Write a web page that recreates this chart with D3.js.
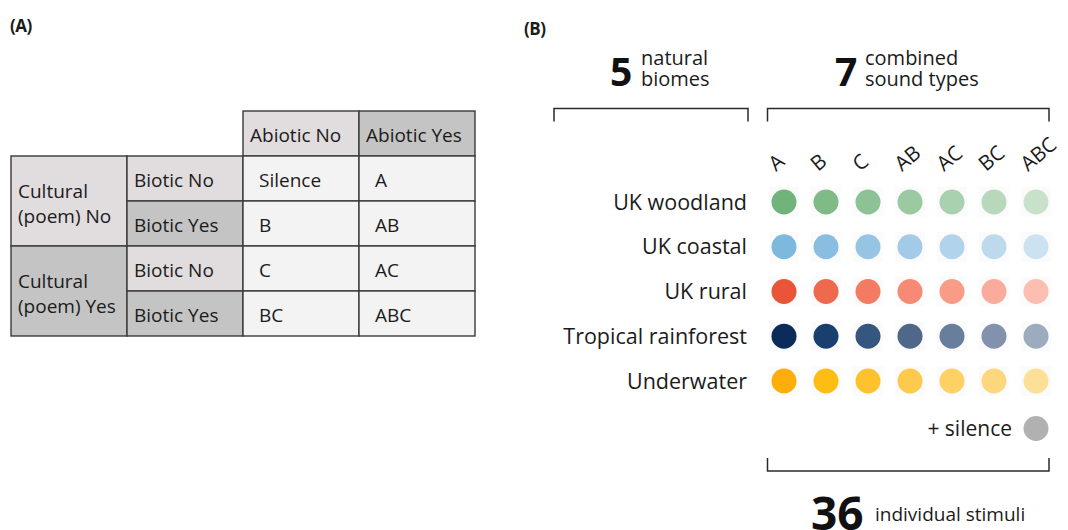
<!DOCTYPE html>
<html><head><meta charset="utf-8">
<script src="https://cdn.jsdelivr.net/npm/d3@7"></script>
<style>
body{margin:0;background:#fff;}
svg{display:block;font-family:"Open Sans","Noto Sans",sans-serif;}
</style></head>
<body>
<svg id="c" width="1068" height="530"></svg>
<script>
// ---------- data ----------
const abioticLevels = ["Abiotic No", "Abiotic Yes"];
const culturalLevels = [["Cultural", "(poem) No"], ["Cultural", "(poem) Yes"]];
const bioticLevels = ["Biotic No", "Biotic Yes"];
const tableCells = [["Silence", "A"], ["B", "AB"], ["C", "AC"], ["BC", "ABC"]];

const biomes = ["UK woodland", "UK coastal", "UK rural", "Tropical rainforest", "Underwater"];
const soundTypes = ["A", "B", "C", "AB", "AC", "BC", "ABC"];
const woodlandColors = ["#70b47b", "#7fba87", "#8dc296", "#9bc9a2", "#a9d0af", "#b8d8bc", "#c8e1ca"];
const coastalColors = ["#7db9dd", "#89bee0", "#96c5e3", "#a3cbe7", "#b1d3eb", "#bcd9ee", "#cce2f1"];
const ruralColors = ["#e95539", "#ee694d", "#f37b63", "#f68a74", "#f89c88", "#f9ac9c", "#fbbeb1"];
const rainforestColors = ["#0b2b5b", "#183f6d", "#35567e", "#4f6889", "#677f9d", "#8292ac", "#9cabbe"];
const underwaterColors = ["#fdae0a", "#fdbd13", "#fdc22d", "#fdca4b", "#fdd163", "#fdd77d", "#fde097"];
const biomeColors = [woodlandColors, coastalColors, ruralColors, rainforestColors, underwaterColors];
const silenceColor = "#b1b1b1";

const headlineNums = ["5", "7", "36"];
const headlineTexts = [["natural", "biomes"], ["combined", "sound types"], ["individual stimuli"]];

// ---------- drawing ----------
const svg = d3.select("#c");
const ink = "#1b1b1b";
const light = "#e1dcde", dark = "#c4c4c4", body = "#f3f3f3", border = "#3a3a3a";

// Panel labels
svg.append("text").attr("x", 10).attr("y", 32).attr("font-size", 17).attr("font-weight", 700)
  .attr("letter-spacing", -0.5).attr("fill", ink).text("(A)");
svg.append("text").attr("x", 524).attr("y", 35).attr("font-size", 17).attr("font-weight", 700)
  .attr("letter-spacing", -0.5).attr("fill", ink).text("(B)");

// ----- Panel A table -----
const colX = d3.scaleBand().domain(["cult", "bio", ...abioticLevels]).range([11, 475]);
const rowY = d3.scaleBand().domain(["head", ...tableCells.map((d, i) => i)]).range([111, 336]);
const cw = colX.bandwidth(), rh = rowY.bandwidth();
const gA = svg.append("g");
const fsT = 19;

function cell(x, y, w, h, fill) {
  gA.append("rect").attr("x", x).attr("y", y).attr("width", w).attr("height", h)
    .attr("fill", fill).attr("stroke", border).attr("stroke-width", 1.4);
}
function label(x, y, t) {
  gA.append("text").attr("x", x).attr("y", y).attr("font-size", fsT).attr("fill", ink).text(t);
}
// header
abioticLevels.forEach((a, i) => {
  cell(colX(a), rowY("head"), cw, rh, i === 0 ? light : dark);
  label(colX(a) + 7, rowY("head") + rh / 2 + 8.5, a);
});
// cultural
culturalLevels.forEach((c, i) => {
  const y0 = rowY(i * 2);
  cell(colX("cult"), y0, cw, rh * 2, i === 0 ? light : dark);
  const t = gA.append("text").attr("font-size", fsT).attr("fill", ink);
  t.append("tspan").attr("x", colX("cult") + 7).attr("y", y0 + rh - 2.7).text(c[0]);
  t.append("tspan").attr("x", colX("cult") + 7).attr("y", y0 + rh + 21.7).text(c[1]);
});
// biotic + body
tableCells.forEach((row, r) => {
  const b = bioticLevels[r % 2];
  cell(colX("bio"), rowY(r), cw, rh, r % 2 === 0 ? light : dark);
  label(colX("bio") + 7, rowY(r) + rh / 2 + 8.5, b);
  row.forEach((t, j) => {
    const a = abioticLevels[j];
    cell(colX(a), rowY(r), cw, rh, body);
    label(colX(a) + 16, rowY(r) + rh / 2 + 8.5, t);
  });
});

// ----- Panel B -----
const x = d3.scalePoint().domain(soundTypes).range([784, 1036]);
const y = d3.scalePoint().domain(biomes).range([202, 381]);
const r = 12.5;
const gB = svg.append("g");

// faint cell backgrounds behind dots
biomes.forEach((b) => {
  gB.selectAll(null).data(soundTypes).join("rect")
    .attr("x", d => x(d) - 15).attr("y", y(b) - 15).attr("width", 30).attr("height", 30)
    .attr("fill", "#fbfbfb");
});

// rotated column headers
gB.selectAll("text.col").data(soundTypes).join("text")
  .attr("class", "col")
  .attr("transform", d => `translate(${x(d) - 8},${172}) rotate(-40)`)
  .attr("font-size", 20.5).attr("fill", ink).text(d => d);

// row labels
gB.selectAll("text.row").data(biomes).join("text")
  .attr("class", "row")
  .attr("x", 747).attr("y", d => y(d) + 7.5)
  .attr("text-anchor", "end").attr("font-size", 21.5).attr("fill", ink).text(d => d);

// dots
biomes.forEach((b, bi) => {
  gB.selectAll(null).data(soundTypes).join("circle")
    .attr("cx", d => x(d)).attr("cy", y(b)).attr("r", r)
    .attr("fill", (d, i) => biomeColors[bi][i]);
});

// silence
const ySil = y(biomes[biomes.length - 1]) + 47.5;
gB.append("circle").attr("cx", x("ABC")).attr("cy", ySil).attr("r", r).attr("fill", silenceColor);
gB.append("text").attr("x", 1012).attr("y", ySil + 7.5).attr("text-anchor", "end")
  .attr("font-size", 21).attr("fill", ink).text("+ silence");

// brackets
function bracket(x0, x1, yl, dir) {
  gB.append("path")
    .attr("d", `M${x0},${yl + dir * 13}V${yl}H${x1}V${yl + dir * 13}`)
    .attr("fill", "none").attr("stroke", "#2a2a2a").attr("stroke-width", 1.5);
}
bracket(554, 748, 108.5, 1);
bracket(767.5, 1049, 108.5, 1);
bracket(767.5, 1049, 471, -1);

// headlines
function headline(xNum, yBase, num, numSize, lines, xTxt, txtSize, lineBases) {
  svg.append("text").attr("x", xNum).attr("y", yBase).attr("font-size", numSize)
    .attr("font-weight", 700).attr("fill", "#111").text(num);
  const t = svg.append("text").attr("font-size", txtSize).attr("fill", ink);
  lines.forEach((s, i) => {
    t.append("tspan").attr("x", xTxt).attr("y", lineBases[i]).text(s);
  });
}
headline(610, 86, headlineNums[0], 39, headlineTexts[0], 641, 20, [65, 86]);
headline(835, 86, headlineNums[1], 39, headlineTexts[1], 865, 20, [65, 86]);
headline(811, 530, headlineNums[2], 46, headlineTexts[2], 875, 19, [521]);
</script>
</body></html>
